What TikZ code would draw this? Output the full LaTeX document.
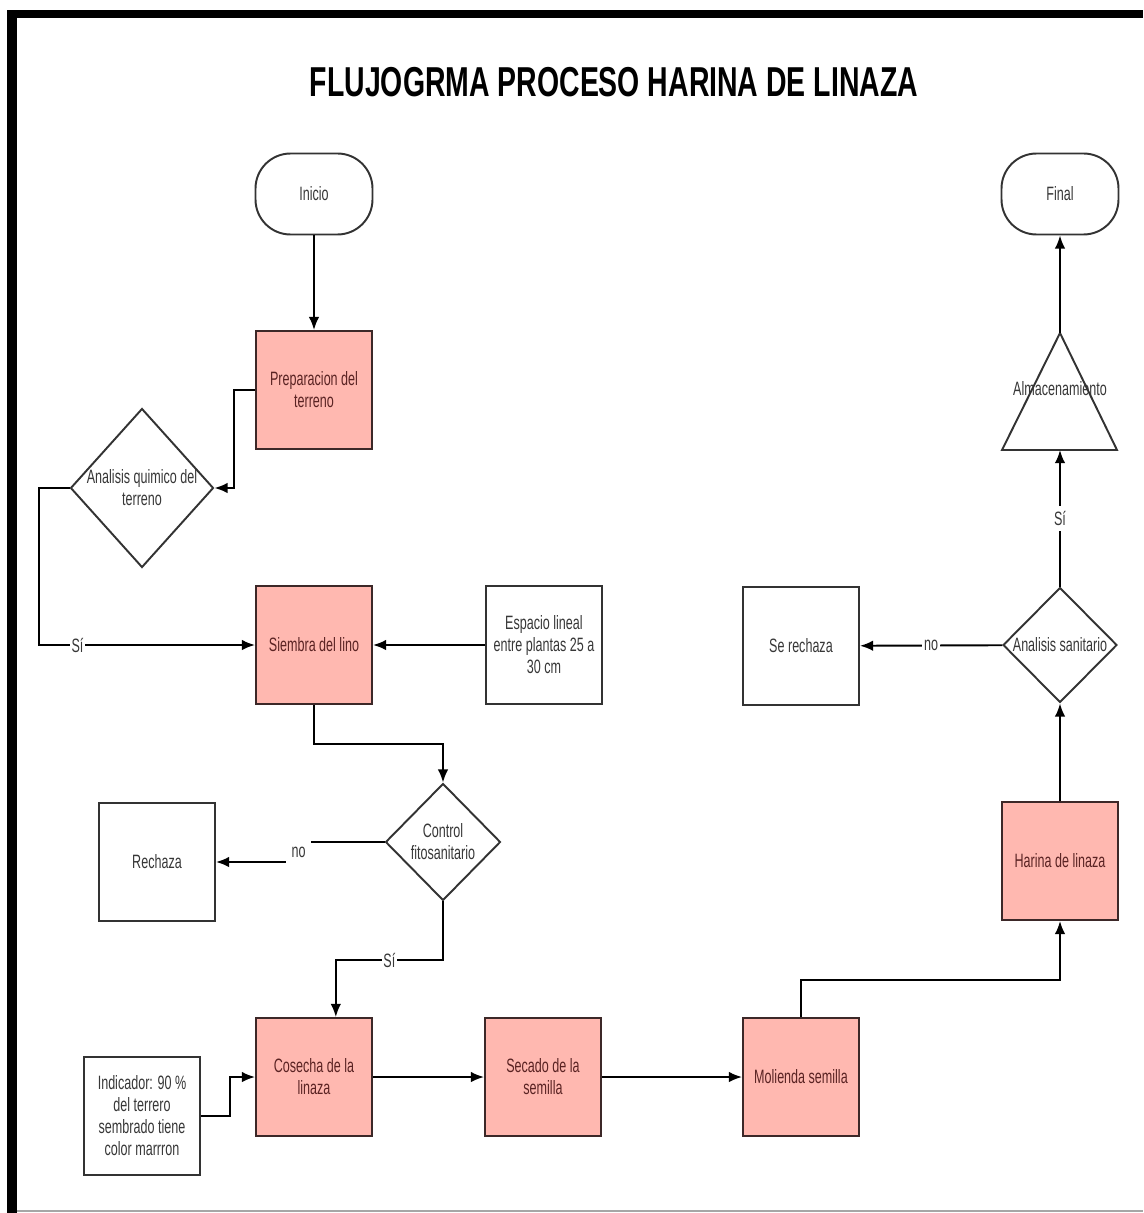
\documentclass[tikz,border=0pt]{standalone}
\usepackage{fontspec}
\setmainfont{Liberation Sans}[FakeStretch=0.65]
\newfontfamily\titlefont{Liberation Sans}[FakeStretch=0.68]
\usetikzlibrary{arrows.meta,shapes.geometric,positioning}
\definecolor{procfill}{RGB}{255,184,176}
\definecolor{procline}{RGB}{60,40,40}
\definecolor{proctext}{RGB}{90,35,35}
\definecolor{notetext}{RGB}{55,55,55}

\begin{document}
\begin{tikzpicture}[x=0.02cm,y=-0.02cm,->,>={Latex[length=7.5pt,width=6pt]},line width=1.1pt,
    font=\fontsize{11}{12.5}\selectfont,text=notetext,
    base node/.style={draw,align=center,inner sep=2pt,minimum width=2.32cm,minimum height=2.36cm},
    proc node/.style={base node,fill=procfill,draw=procline,text=proctext},
    note node/.style={base node,draw=black!80},
    term node/.style={draw=black!80,rounded corners=0.7cm,minimum width=2.34cm,minimum height=1.62cm},
    dec node/.style={diamond,draw=black!80,inner sep=0pt},
    lbl/.style={fill=white,inner xsep=1pt,inner ysep=3pt}]

  % frame
  \useasboundingbox (0,0) rectangle (1143,1213);
  \fill[-,black] (7,10) rectangle (1143,18);
  \fill[-,black] (7,10) rectangle (17,1213);
  \draw[-,black!35,line width=0.8pt] (17,1211) -- (1143,1211);

  \node[font=\titlefont\bfseries\fontsize{23.8}{26}\selectfont,text=black] (title) at (614,82) {FLUJOGRMA PROCESO HARINA DE LINAZA};

  \node[term node] (inicio) at (314,194) {Inicio};
  \node[term node] (final) at (1060,194) {Final};

  \node[proc node] (prep) at (314,390) {Preparacion del\\terreno};
  \node[dec node,minimum width=2.86cm,minimum height=3.18cm,
        label={[align=center]center:Analisis quimico del\\terreno}] (quim) at (142,488) {};
  \node[proc node] (siembra) at (314,645) {Siembra del lino};
  \node[note node] (espacio) at (544,645) {Espacio lineal\\entre plantas 25 a\\30 cm};
  \node[dec node,minimum width=2.3cm,minimum height=2.34cm,
        label={[align=center]center:Control\\fitosanitario}] (ctrl) at (443,842) {};
  \node[note node] (rechaza) at (157,862) {Rechaza};
  \node[proc node] (cosecha) at (314,1077) {Cosecha de la\\linaza};
  \node[note node] (indic) at (142,1116) {Indicador: 90 \%\\del terrero\\sembrado tiene\\color marrron};
  \node[proc node] (secado) at (543,1077) {Secado de la\\semilla};
  \node[proc node] (molienda) at (801,1077) {Molienda semilla};
  \node[proc node] (harina) at (1060,861) {Harina de linaza};
  \node[dec node,minimum width=2.28cm,minimum height=2.3cm,
        label={center:Analisis sanitario}] (sanit) at (1060,645) {};
  \node[note node] (serech) at (801,646) {Se rechaza};

  % almacenamiento
  \coordinate (almatop) at (1060,333);
  \coordinate (almabase) at (1060,450);
  \draw[-,draw=black!80] (1002,450) -- (almatop) -- (1117,450) -- cycle;
  \node (alma) at (1060,389) {Almacenamiento};

  \draw (inicio) -- (prep);
  \draw (prep.west) -- ++(-21,0) |- (quim.east);
  \draw (quim.west) -- ++(-31,0) |- node[lbl,pos=0.59]{Sí} (siembra.west);
  \draw (espacio) -- (siembra);
  \draw (siembra.south) -- ++(0,39) -| (ctrl.north);
  \draw (ctrl.west) -- ++(-86,0) |- node[lbl,pos=0.25,inner sep=3pt]{no} (rechaza.east);
  \draw (ctrl.south) -- ++(0,59) -| node[lbl,pos=0.25]{Sí} (cosecha.70);
  \draw (indic.east) -- ++(29,0) |- (cosecha.west);
  \draw (cosecha) -- (secado);
  \draw (secado) -- (molienda);
  \draw (molienda.north) -- ++(0,-37) -| (harina.south);
  \draw (harina) -- (sanit);
  \draw (sanit) -- node[lbl]{no} (serech);
  \draw (sanit) -- node[lbl]{Sí} (almabase);
  \draw (almatop) -- (final);
\end{tikzpicture}
\end{document}
